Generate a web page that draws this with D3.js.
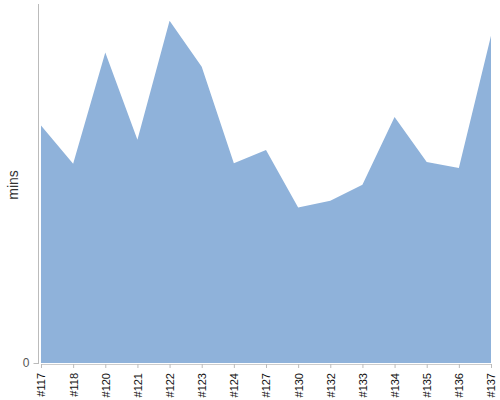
<!DOCTYPE html>
<html>
<head>
<meta charset="utf-8">
<script src="https://cdn.jsdelivr.net/npm/d3@7"></script>
<style>
	body { margin: 0; background: #fff; }
	svg { display: block; font-family: "Liberation Sans", Arial, sans-serif; }
</style>
</head>
<body>
<div id="chart"></div>
<script>
// builds, in run order
const builds = ['#117', '#118', '#120', '#121', '#122', '#123', '#124', '#127',
	'#130', '#132', '#133', '#134', '#135', '#136', '#137'];

// duration per build (mins)
const mins = [39.7, 33.3, 51.9, 37.3, 57.2, 49.5, 33.4, 35.6,
	26.0, 27.1, 29.8, 41.1, 33.6, 32.6, 54.7];

const yTicks = [0];

const containerWidth = 500;
const containerHeight = 400;
const margin = { top: 4, right: 9, bottom: 37, left: 41 };

const width = containerWidth - margin.left - margin.right;
const height = containerHeight - margin.top - margin.bottom;

const svg = d3.select('#chart').append('svg')
	.attr('width', containerWidth)
	.attr('height', containerHeight);

const chart = svg.append('g')
	.attr('transform', `translate(${margin.left}, ${margin.top})`);

const xScale = d3.scalePoint()
	.domain(builds)
	.range([0, width]);

const yScale = d3.scaleLinear()
	.domain([0, 60])
	.range([height, 0]);

const data = builds.map((b, i) => ({ build: b, value: mins[i] }));

// filled area
const area = d3.area()
	.x(d => xScale(d.build))
	.y0(yScale(0))
	.y1(d => yScale(d.value));

chart.append('path')
	.datum(data)
	.attr('fill', '#8fb2da')
	.attr('d', area);

// y axis
const yAxisGroup = chart.append('g')
	.attr('class', 'axis y-axis')
	.attr('transform', 'translate(-2.5, 0)')
	.call(d3.axisLeft(yScale).tickValues(yTicks).tickSizeOuter(0).tickSize(5).tickPadding(4));

// plain vertical line instead of the default domain path
yAxisGroup.select('.domain').remove();
yAxisGroup.append('line')
	.attr('y1', yScale.range()[0] + 1)
	.attr('y2', yScale.range()[1])
	.attr('stroke', '#bbb');
yAxisGroup.selectAll('.tick line').attr('stroke', '#bbb');
yAxisGroup.selectAll('.tick text')
	.attr('fill', '#555')
	.style('font-size', '12px');

// x axis
const xAxisGroup = chart.append('g')
	.attr('class', 'axis x-axis')
	.attr('transform', `translate(0, ${height + 1})`)
	.call(d3.axisBottom(xScale).tickSizeOuter(0).tickSize(4));

xAxisGroup.select('.domain').attr('stroke', '#ccc');
xAxisGroup.selectAll('.tick line').attr('stroke', '#bbb');
xAxisGroup.selectAll('.tick text')
	.attr('transform', 'rotate(-90)')
	.attr('text-anchor', 'end')
	.attr('x', -9)
	.attr('y', 0)
	.attr('dy', '0.35em')
	.attr('fill', '#111')
	.style('font-size', '11px');

// y axis label
svg.append('text')
	.attr('text-anchor', 'middle')
	.attr('transform', `translate(18, 185) rotate(-90)`)
	.attr('fill', '#333')
	.style('font-size', '14px')
	.text('mins');
</script>
</body>
</html>
